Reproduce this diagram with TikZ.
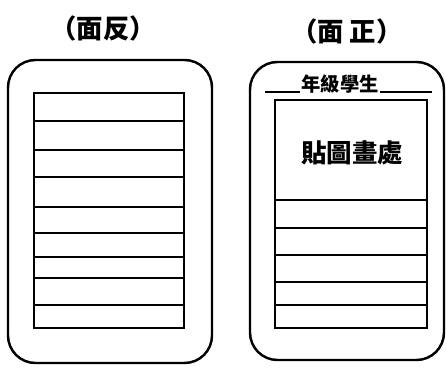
\documentclass[tikz,border=0pt]{standalone}
\usepackage{fontspec}
\usepackage{tikz}
\newfontfamily\cjk{Noto Sans CJK TC}
\usetikzlibrary{positioning}

\begin{document}
\begin{tikzpicture}[
    x=0.02cm, y=-0.02cm,
    card/.style={line width=1.4pt, rounded corners=0.55cm},
    frame/.style={line width=1.2pt},
    rule/.style={line width=1.1pt},
    title/.style={font=\cjk\bfseries\fontsize{15}{15}\selectfont, inner sep=0pt},
    lbl/.style={font=\cjk\bfseries\fontsize{11}{11}\selectfont, inner sep=1pt, fill=white},
    big/.style={font=\cjk\bfseries\fontsize{14.5}{14.5}\selectfont, inner sep=0pt},
]
\useasboundingbox (0,0) rectangle (446,368);

% titles
\node[title] (back) at (103,28) {（面反）};
\node[title] (front) at (347,31) {（面 正）};

% back side
\draw[card] (8,60) rectangle (212,363);
\draw[frame] (34,93) rectangle (184,328);
\foreach \y in {121,150,177,207,233,257,278,305}
    \draw[rule] (34,\y) -- (184,\y);

% front side
\draw[card] (250,62) rectangle (444,360);
\draw[rule] (265,92) -- (432,92);
\node[lbl] (grade) at (340,84) {年級學生};
\draw[frame] (275,100) rectangle (427,328);
\node[big] (pic) at (352,153) {貼圖畫處};
\foreach \y in {200,228,255,282,305}
    \draw[rule] (275,\y) -- (427,\y);
\end{tikzpicture}
\end{document}
